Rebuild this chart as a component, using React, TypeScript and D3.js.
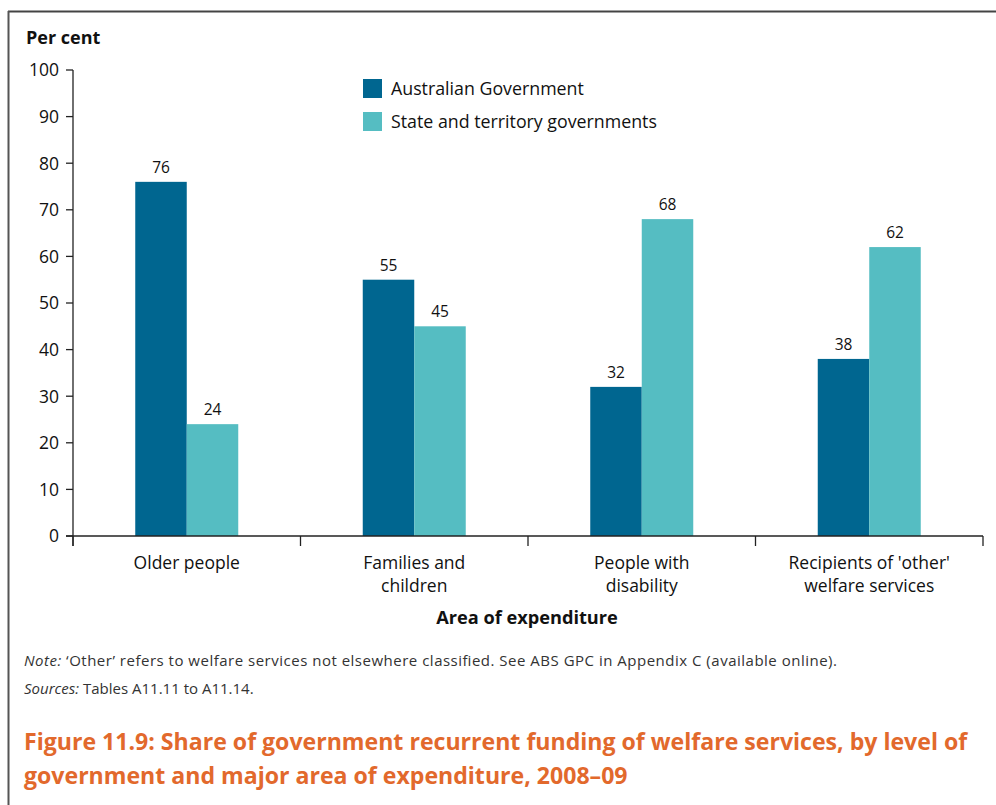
import React, { useEffect, useRef } from "react";
import * as d3 from "d3";

const categories = [
  ["Older people"],
  ["Families and", "children"],
  ["People with", "disability"],
  ["Recipients of 'other'", "welfare services"],
];
const seriesNames = ["Australian Government", "State and territory governments"];
const australianGov = [76, 55, 32, 38];
const stateGov = [24, 45, 68, 62];
const yTicks = [0, 10, 20, 30, 40, 50, 60, 70, 80, 90, 100];

const COLORS = ["#006690", "#55BDC2"];
const FONT = "'Open Sans', 'Noto Sans', sans-serif";

export default function App() {
  const ref = useRef<SVGSVGElement>(null);

  useEffect(() => {
    const svg = d3.select(ref.current);
    svg.selectAll("*").remove();

    const W = 996, H = 805;
    const left = 73, right = 983, top = 70, bottom = 536;

    // outer frame: top and left rules
    svg.append("line").attr("x1", 8).attr("x2", W).attr("y1", 11.5).attr("y2", 11.5)
      .attr("stroke", "#444").attr("stroke-width", 2);
    svg.append("line").attr("x1", 8.5).attr("x2", 8.5).attr("y1", 11).attr("y2", H)
      .attr("stroke", "#555").attr("stroke-width", 2);

    const x = d3.scaleBand<number>().domain(d3.range(categories.length)).range([left, right]);
    const y = d3.scaleLinear().domain([0, 100]).range([bottom, top]);
    const barW = 51.5;

    // y axis
    svg.append("line").attr("x1", left).attr("x2", left).attr("y1", top).attr("y2", bottom + 10)
      .attr("stroke", "#222").attr("stroke-width", 1.3);
    const yg = svg.append("g");
    yTicks.forEach((t) => {
      yg.append("line").attr("x1", left - 7).attr("x2", left).attr("y1", y(t)).attr("y2", y(t))
        .attr("stroke", "#222").attr("stroke-width", 1.3);
      yg.append("text").attr("x", left - 14).attr("y", y(t)).attr("dy", "0.36em")
        .attr("text-anchor", "end").attr("font-family", FONT).attr("font-size", 17.5)
        .attr("fill", "#111").text(t);
    });

    svg.append("text").attr("x", 26).attr("y", 44).attr("font-family", FONT)
      .attr("font-weight", "bold").attr("font-size", 18).attr("fill", "#111").text("Per cent");

    // bars
    const series = [australianGov, stateGov];
    series.forEach((vals, si) => {
      vals.forEach((v, ci) => {
        const cx = (x(ci) as number) + x.bandwidth() / 2;
        const x0 = cx - barW + si * barW;
        svg.append("rect").attr("x", x0).attr("y", y(v)).attr("width", barW)
          .attr("height", bottom - y(v)).attr("fill", COLORS[si]);
        svg.append("text").attr("x", x0 + barW / 2).attr("y", y(v) - 9)
          .attr("text-anchor", "middle").attr("font-family", FONT).attr("font-size", 15.5)
          .attr("fill", "#111").text(v);
      });
    });

    // x axis
    svg.append("line").attr("x1", left - 7).attr("x2", right).attr("y1", bottom).attr("y2", bottom)
      .attr("stroke", "#222").attr("stroke-width", 1.3);
    d3.range(categories.length + 1).forEach((i) => {
      const xx = left + i * x.bandwidth();
      svg.append("line").attr("x1", xx).attr("x2", xx).attr("y1", bottom).attr("y2", bottom + 10)
        .attr("stroke", "#222").attr("stroke-width", 1.3);
    });
    categories.forEach((lines, ci) => {
      const cx = (x(ci) as number) + x.bandwidth() / 2;
      lines.forEach((ln, li) => {
        svg.append("text").attr("x", cx).attr("y", 569 + li * 23).attr("text-anchor", "middle")
          .attr("font-family", FONT).attr("font-size", 17.5).attr("fill", "#111").text(ln);
      });
    });
    svg.append("text").attr("x", 527).attr("y", 624).attr("text-anchor", "middle")
      .attr("font-family", FONT).attr("font-weight", "bold").attr("font-size", 18.2)
      .attr("fill", "#111").text("Area of expenditure");

    // legend
    seriesNames.forEach((name, i) => {
      const ly = 79 + i * 33;
      svg.append("rect").attr("x", 363).attr("y", ly).attr("width", 19).attr("height", 19)
        .attr("fill", COLORS[i]);
      svg.append("text").attr("x", 391).attr("y", ly + 9.5).attr("dy", "0.36em")
        .attr("font-family", FONT).attr("font-size", 17.8).attr("fill", "#111").text(name);
    });

    // notes
    const note = svg.append("text").attr("x", 24).attr("y", 666).attr("font-family", FONT)
      .attr("font-size", 15).attr("fill", "#333")
      .attr("textLength", 813).attr("lengthAdjust", "spacing");
    note.append("tspan").attr("font-style", "italic").text("Note:");
    note.append("tspan").text(" \u2018Other\u2019 refers to welfare services not elsewhere classified. See ABS GPC in Appendix C (available online).");
    const src = svg.append("text").attr("x", 24).attr("y", 694).attr("font-family", FONT)
      .attr("font-size", 15).attr("fill", "#333");
    src.append("tspan").attr("font-style", "italic").text("Sources:");
    src.append("tspan").text(" Tables A11.11 to A11.14.");

    // figure title
    ["Figure 11.9: Share of government recurrent funding of welfare services, by level of",
      "government and major area of expenditure, 2008\u201309"].forEach((t, i) => {
      svg.append("text").attr("x", 24).attr("y", 750 + i * 34).attr("font-family", FONT)
        .attr("font-weight", "bold").attr("font-size", 23.1).attr("fill", "#E2692C").text(t);
    });
  }, []);

  return (
    <svg ref={ref} width={996} height={805}
      style={{ position: "absolute", left: 0, top: 0, background: "#fff" }} />
  );
}
